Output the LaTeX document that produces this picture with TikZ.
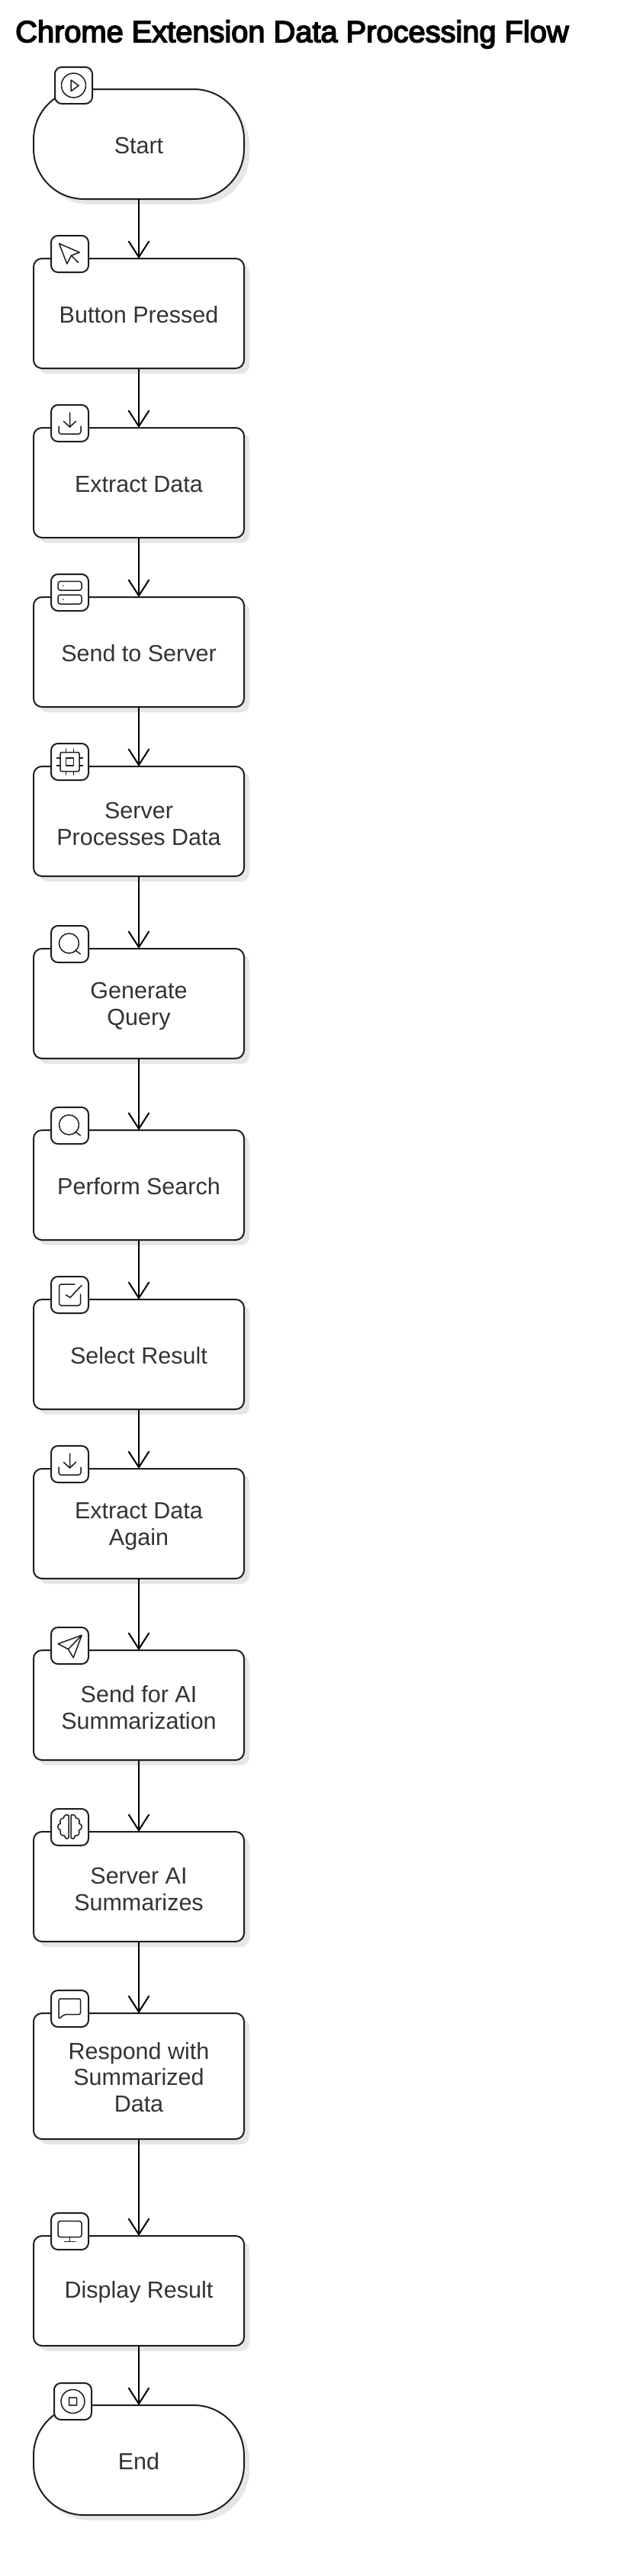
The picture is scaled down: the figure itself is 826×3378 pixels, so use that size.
\documentclass[tikz,border=0pt]{standalone}
\usepackage{xcolor}
\usepackage{fontspec}
\setmainfont{Liberation Sans}
\newfontfamily\titlefont{Liberation Sans}[FakeBold=4]
\usepackage{tikz}
\usetikzlibrary{positioning,arrows.meta,shadows}
\definecolor{ink}{HTML}{1E1E1E}
\definecolor{label}{HTML}{333333}
\definecolor{shade}{HTML}{E6E6E6}
\tikzset{
  lowered/.style ={execute at begin node={\rule{0pt}{#1}}},
  stepbox/.style ={rectangle, rounded corners=11pt, draw=ink, fill=white, line width=2pt, outer sep=0pt,
                   font=\fontsize{30.5}{34.5}\selectfont, text=label, align=center, minimum width=276pt, minimum height=144pt,
                   lowered=24.5pt,
                   drop shadow={shadow xshift=7pt, shadow yshift=-7pt, fill=shade, opacity=1}},
  termbox/.style ={stepbox, rounded corners=66pt},
  tallbox/.style ={stepbox, minimum height=165pt, lowered=94pt},
  pairbox/.style ={stepbox, lowered=62.5pt},
  badge/.style   ={rectangle, rounded corners=9pt, draw=ink, fill=white, line width=2pt, outer sep=0pt,
                   minimum width=49pt, minimum height=48pt, inner sep=0pt},
  flowarr/.style ={-{Straight Barb[length=21pt,width=27pt,line width=2pt]}, draw=black, line width=2pt},
  ico/.style     ={draw=ink, line width=1.5pt, line join=round, line cap=round},
  icoplay/.pic   ={\draw[ico] (0,0) circle (16pt) (-3.3,7) -- (6.7,-.3) -- (-3.3,-7.5) -- cycle;},
  icopointer/.pic={\draw[ico] (-14,13.7) -- (12.8,2) -- (2,-2) -- (-3.7,-13) -- cycle (2,-2) -- (11,-11.3);},
  icosave/.pic   ={\draw[ico] (0,14) -- (0,-5) (-8,2.5) -- (0,-5) -- (8,2.5);
                   \draw[ico, rounded corners=3pt] (-14.5,-4) -- (-14.5,-14) -- (14.5,-14) -- (14.5,-4);},
  icoserver/.pic ={\draw[ico, rounded corners=3pt] (-15.5,3) rectangle (15.5,14.6) (-15.5,-15) rectangle (15.5,-3);
                   \fill[ink] (-8.7,9) circle (.9pt) (-8.7,-9) circle (.9pt);},
  icochip/.pic   ={\draw[ico, rounded corners=2pt] (-12.5,-12.5) rectangle (12.5,12.5);
                   \draw[ico] (-5,-5) rectangle (5,5);
                   \foreach \p in {-5,5} {\draw[ico] (\p,12.5) -- (\p,17) (\p,-12.5) -- (\p,-17) (12.5,\p) -- (17,\p) (-12.5,\p) -- (-17,\p);}},
  icosearch/.pic ={\draw[ico] (-1,1) circle (13pt) (7,-8) -- (14,-13);},
  icocheck/.pic  ={\draw[ico, rounded corners=3pt] (6.5,14) -- (-14,14) -- (-14,-14) -- (14,-14) -- (14,1);
                   \draw[ico] (-5,0) -- (.5,-3.5) -- (15.5,12.5);},
  icosend/.pic   ={\draw[ico] (15.7,13.8) -- (-15.3,2.4) -- (-2,-4.7) -- (4.7,-15.8) -- cycle (-2,-4.7) -- (15.7,13.8);},
  icobrain/.pic  ={\foreach \s in {-1,1} {\draw[ico, xscale=\s] (1.5,15.5) .. controls (4,17) and (8,16) .. (8,12) .. controls (12,12) and (14,8) .. (12,5)
                     .. controls (17,4) and (17,-3) .. (12,-4) .. controls (14,-9) and (10,-12) .. (7,-11) .. controls (6,-16) and (3,-16) .. (1.5,-13.5) -- cycle;}},
  icochat/.pic   ={\draw[ico, rounded corners=2pt] (-14.3,13) -- (14,13) -- (14,-7.5) -- (-7,-7.5) -- (-14.3,-13.5) -- cycle;},
  icoscreen/.pic ={\draw[ico, rounded corners=3pt] (-15.5,-7.5) rectangle (15.5,13.4);
                   \draw[ico] (0,-7.5) -- (0,-13.4) (-7,-13.4) -- (7,-13.4);},
  icostop/.pic   ={\draw[ico] (0,0) circle (15.5pt) (-5,-5) rectangle (5,5);},
}

\begin{document}
\begin{tikzpicture}[x=1pt,y=1pt]
\useasboundingbox (0,0) rectangle (826,-3378);
\node[font=\fontsize{39.8}{46}\titlefont, text=black, anchor=west, inner sep=0pt] (title) at (20,-45) {Chrome Extension Data Processing Flow};
% steps, top to bottom
\node[termbox] (start) at (182,-189) {Start};
\node[stepbox, below=78pt of start] (pressed) {Button Pressed};
\node[stepbox, below=78pt of pressed] (extract) {Extract Data};
\node[stepbox, below=78pt of extract] (send) {Send to Server};
\node[pairbox, below=78pt of send] (process) {Server\\Processes Data};
\node[pairbox, below=95pt of process] (query) {Generate\\Query};
\node[stepbox, below=94pt of query] (search) {Perform Search};
\node[stepbox, below=78pt of search] (select) {Select Result};
\node[pairbox, below=78pt of select] (again) {Extract Data\\Again};
\node[pairbox, below=94pt of again] (forai) {Send for AI\\Summarization};
\node[pairbox, below=94pt of forai] (summ) {Server AI\\Summarizes};
\node[tallbox, below=94pt of summ] (respond) {Respond with\\Summarized\\Data};
\node[stepbox, below=127pt of respond] (display) {Display Result};
\node[termbox, below=78pt of display] (finish) {End};
\foreach \a/\b in {start/pressed,pressed/extract,extract/send,send/process,process/query,query/search,search/select,select/again,again/forai,forai/summ,summ/respond,respond/display,display/finish} { \draw[flowarr] (\a) -- (\b); }
% icon badges
\node[badge, above right=-19pt and 28pt of start.north west] (bstart) {};
\node[badge, above right=-19pt and 27pt of finish.north west] (bfinish) {};
\foreach \n/\i in {pressed/icopointer,extract/icosave,send/icoserver,process/icochip,query/icosearch,search/icosearch,select/icocheck,again/icosave,forai/icosend,summ/icobrain,respond/icochat,display/icoscreen} {
  \node[badge, above right=-18pt and 23pt of \n.north west] (b\n) {};
  \pic at (b\n) {\i};
}
\pic at (bstart) {icoplay};
\pic at (bfinish) {icostop};
\end{tikzpicture}
\end{document}
